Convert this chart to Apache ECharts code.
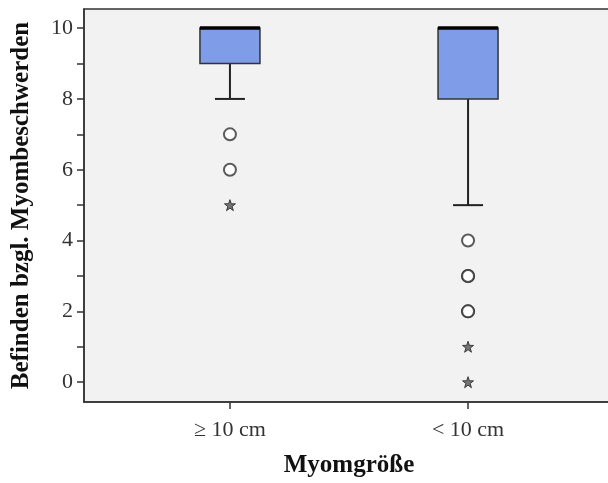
<!DOCTYPE html>
<html>
<head>
<meta charset="utf-8">
<script src="https://cdn.jsdelivr.net/npm/echarts@6/dist/echarts.min.js"></script>
<style>
html, body { margin: 0; padding: 0; background: #fff; }
#chart { width: 608px; height: 483px; }
</style>
</head>
<body>
<div id="chart"></div>
<script>
// Kategorien (Myomgröße)
var categories = ['≥ 10 cm', '< 10 cm'];
// Kennwerte je Box
var whiskerLow = [8, 5];
var q1 = [9, 8];
var median = [10, 10];
var q3 = [10, 10];
var whiskerHigh = [10, 10];
// Ausreisser (Kreise) und Extremwerte (Sterne)
var outliers = [[7, 6], [4, 3, 3, 2, 2]];
var extremes = [[5], [1, 0]];
var yTicks = [0, 1, 2, 3, 4, 5, 6, 7, 8, 9, 10];
var yLabels = [0, 2, 4, 6, 8, 10];

var FONT = '"Liberation Serif", "DejaVu Serif", serif';
var STAR = 'path://M50,0 L62,34 L98,35 L69,57 L80,92 L50,71 L20,92 L31,57 L2,35 L38,34 Z';

var boxData = [];
for (var i = 0; i < categories.length; i++) {
	boxData.push([i + 1, whiskerLow[i], q1[i], median[i], q3[i], whiskerHigh[i]]);
}
var circleData = [];
var starData = [];
for (var j = 0; j < categories.length; j++) {
	outliers[j].forEach(function(v){ circleData.push([j + 1, v]); });
	extremes[j].forEach(function(v){ starData.push([j + 1, v]); });
}

/*Box zeichnen*/
function renderBox(params, api) {
	var x = api.value(0);
	var lo = api.coord([x, api.value(1)]);
	var p1 = api.coord([x, api.value(2)]);
	var pm = api.coord([x, api.value(3)]);
	var p3 = api.coord([x, api.value(4)]);
	var hi = api.coord([x, api.value(5)]);
	var bw = 60, cw = 30;
	var lineStyle = { stroke: '#222', lineWidth: 2 };
	return {
		type: 'group',
		children: [
			{ type: 'line', shape: { x1: lo[0], y1: lo[1], x2: p1[0], y2: p1[1] }, style: lineStyle },
			{ type: 'line', shape: { x1: lo[0] - cw / 2, y1: lo[1], x2: lo[0] + cw / 2, y2: lo[1] }, style: lineStyle },
			{ type: 'line', shape: { x1: p3[0], y1: p3[1], x2: hi[0], y2: hi[1] }, style: lineStyle },
			{ type: 'line', shape: { x1: hi[0] - cw / 2, y1: hi[1], x2: hi[0] + cw / 2, y2: hi[1] }, style: lineStyle },
			{ type: 'rect', shape: { x: p3[0] - bw / 2, y: p3[1], width: bw, height: p1[1] - p3[1] },
				style: { fill: '#7e9ce8', stroke: '#333', lineWidth: 1.5 } },
			{ type: 'line', shape: { x1: pm[0] - bw / 2, y1: pm[1], x2: pm[0] + bw / 2, y2: pm[1] },
				style: { stroke: '#000', lineWidth: 3.5 } }
		]
	};
}

var option = {
	animation: false,
	backgroundColor: '#fff',
	grid: {
		left: 84, top: 9, width: 530, height: 393,
		outerBoundsMode: 'none',
		show: true, backgroundColor: '#f2f2f2', borderColor: '#333', borderWidth: 1.5
	},
	xAxis: {
		type: 'value',
		min: 0.387, max: 2.613,
		name: 'Myomgröße',
		nameLocation: 'middle',
		nameGap: 51,
		nameTextStyle: { fontFamily: FONT, fontWeight: 'bold', fontSize: 25, color: '#111' },
		splitLine: { show: false },
		axisLine: { show: true, onZero: false, lineStyle: { color: '#333', width: 1.5 } },
		axisTick: { show: true, length: 7, customValues: [1, 2], lineStyle: { color: '#333', width: 1.5 } },
		axisLabel: {
			customValues: [1, 2], margin: 17,
			fontFamily: FONT, fontSize: 22, color: '#333',
			formatter: function(v){ return categories[Math.round(v) - 1]; }
		}
	},
	yAxis: {
		type: 'value',
		min: -0.56, max: 10.54,
		name: 'Befinden bzgl. Myombeschwerden',
		nameLocation: 'middle',
		nameGap: 50,
		nameTextStyle: { fontFamily: FONT, fontWeight: 'bold', fontSize: 25, color: '#111' },
		splitLine: { show: false },
		axisLine: { show: true, onZero: false, lineStyle: { color: '#333', width: 1.5 } },
		axisTick: { show: true, length: 7, customValues: yTicks, lineStyle: { color: '#333', width: 1.5 } },
		axisLabel: {
			customValues: yLabels, margin: 11,
			fontFamily: FONT, fontSize: 22, color: '#333'
		}
	},
	series: [
		{
			type: 'custom',
			renderItem: renderBox,
			data: boxData,
			encode: { x: 0, y: [1, 2, 3, 4, 5] }
		},
		{
			type: 'scatter',
			symbol: 'emptyCircle',
			symbolSize: 12,
			itemStyle: { color: '#333', borderColor: '#333', borderWidth: 1.5 },
			data: circleData
		},
		{
			type: 'scatter',
			symbol: STAR,
			symbolSize: 11,
			itemStyle: { color: '#555', borderColor: '#222', borderWidth: 1 },
			data: starData
		}
	]
};

var myChart = echarts.init(document.getElementById('chart'));
myChart.setOption(option);
</script>
</body>
</html>
